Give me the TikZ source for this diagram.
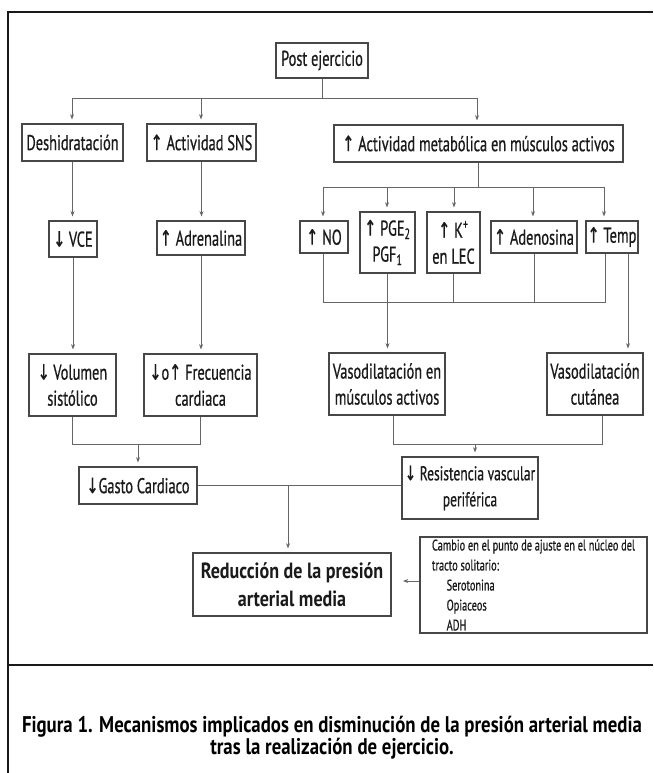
\documentclass[tikz,border=0pt]{standalone}
\usepackage{fontspec}
\usepackage{graphicx}
\usetikzlibrary{arrows.meta,calc}
\setmainfont[FakeStretch=0.675,FakeBold=0.6]{PT Sans}
\newfontfamily\arrfont[FakeStretch=0.675,FakeBold=0.6]{DejaVu Sans}
\newfontfamily\redfont[FakeStretch=0.82]{PT Sans}
\newfontfamily\capfont[FakeStretch=0.83]{PT Sans}
\newcommand\ua{{\arrfont ↑}}
\newcommand\da{{\arrfont ↓}}
\definecolor{txt}{HTML}{1A1A1A}
\begin{document}
\begin{tikzpicture}[x=0.75pt,y=-0.75pt,
  bx/.style={draw=black!72, line width=0.8pt, fill=white, inner sep=0pt, align=center,
    font=\fontsize{16}{19.5}\selectfont, text=txt},
  sz/.style 2 args={minimum width=#1*0.75pt, minimum height=#2*0.75pt},
  ln/.style={draw=black!60, line width=0.6pt},
  ar/.style={ln, -{Stealth[length=4pt,width=3pt]}, shorten >=3pt},
  frame/.style={draw=black!90, line width=1.6pt}]
\useasboundingbox (0,0) rectangle (653,773);
% frame
\draw[frame] (8,773) -- (8,12) -- (653,12);
\draw[frame] (8,665) -- (653,665);
% nodes
\node[bx, sz={92}{35}] (post) at (322,60.5) {Post ejercicio};
\node[bx, sz={101}{37}] (desh) at (72.5,142.5) {Deshidratación};
\node[bx, sz={109}{37}] (sns) at (201.5,142.5) {\ua\ Actividad SNS};
\node[bx, sz={289}{37}] (metab) at (478.5,143.5) {\ua\ Actividad metabólica en músculos activos};
\node[bx, sz={48}{36}] (vce) at (73,239) {\da\,VCE};
\node[bx, sz={88}{34}] (adren) at (201,238) {\ua\ Adrenalina};
\node[bx, sz={48}{32}] (no) at (324,237) {\ua\ NO};
\node[bx, sz={55}{61}] (pge) at (387.5,242.5) {\ua\ PGE\textsubscript{2}\\PGF\textsubscript{1}};
\node[bx, sz={53}{61}] (k) at (453.5,242.5) {\ua\ K\textsuperscript{+}\\en LEC};
\node[bx, sz={86}{32}] (aden) at (534,237) {\ua\ Adenosina};
\node[bx, sz={52}{32}] (temp) at (612,237) {\ua\ Temp};
\node[bx, sz={87}{62}] (vol) at (72.5,385) {\da\,Volumen\\sistólico};
\node[bx, sz={113}{62}] (frec) at (200.5,385) {\da o\ua\ Frecuencia\\cardiaca};
\node[bx, sz={116}{62}] (vmus) at (387,384) {Vasodilatación en\\músculos activos};
\node[bx, sz={96}{62}] (vcut) at (595,384) {Vasodilatación\\cutánea};
\node[bx, sz={118}{37}] (gasto) at (138,485.5) {\da Gasto Cardiaco};
\node[bx, sz={136}{62}, font=\fontsize{15}{19.5}\selectfont] (resist) at (470,488) {\da\ Resistencia vascular\\periférica};
\node[bx, sz={198}{63}, font=\redfont\bfseries\fontsize{16.5}{21}\selectfont] (reduc) at (292,584.5) {Reducción de la presión\\arterial media};
\node[bx, sz={227}{96}, align=left, font=\fontsize{11.5}{15}\selectfont] (cambio) at (533.5,585)
  {Cambio en el punto de ajuste en el núcleo del\\tracto solitario:\\\hspace*{11pt}Serotonina\\\hspace*{11pt}Opiaceos\\\hspace*{11pt}ADH};
\node[font=\capfont\bfseries\fontsize{17}{16.5}\selectfont, text=black, align=center] (cap) at (332,738)
  {Figura 1. Mecanismos implicados en disminución de la presión arterial media\\tras la realización de ejercicio.};
% bus 1
\coordinate (b1) at (322,98);
\coordinate (b1L) at (72,98);
\coordinate (b1M) at (201,98);
\coordinate (b1R) at (477,98);
\draw[ln] (post.south) -- (b1);
\draw[ln] (b1L) -- (b1R);
\draw[ar] (b1L) -- (b1L |- desh.north);
\draw[ar] (b1M) -- (b1M |- sns.north);
\draw[ar] (b1R) -- (b1R |- metab.north);
% left chains
\draw[ar] (desh.south) -- (desh.south |- vce.north);
\draw[ar] (sns.south) -- (sns.south |- adren.north);
\draw[ar] (vce.south) -- (vce.south |- vol.north);
\draw[ar] (adren.south) -- (adren.south |- frec.north);
% bus 2
\coordinate (b2L) at (323,187);
\coordinate (b2a) at (387,187);
\coordinate (b2b) at (454,187);
\coordinate (b2c) at (533,187);
\coordinate (b2R) at (604,187);
\draw[ln] (metab.south) -- (metab.south |- b2L);
\draw[ln] (b2L) -- (b2R);
\draw[ar] (b2L) -- (b2L |- no.north);
\draw[ar] (b2a) -- (b2a |- pge.north);
\draw[ar] (b2b) -- (b2b |- k.north);
\draw[ar] (b2c) -- (b2c |- aden.north);
\draw[ar] (b2R) -- (b2R |- temp.north);
% bus 3
\coordinate (c2L) at (323,302);
\coordinate (c2R) at (605,302);
\draw[ln] (c2L |- no.south) -- (c2L) -- (c2R) -- (c2R |- temp.south);
\draw[ln] (k.south) -- (k.south |- c2L);
\draw[ln] (aden.south) -- (aden.south |- c2L);
\draw[ar] (pge.south) -- (pge.south |- vmus.north);
\draw[ar] ([xshift=12pt]temp.south) coordinate (t2) -- (t2 |- vcut.north);
% to gasto
\coordinate (d1M) at (138,444);
\draw[ln] (vol.south) -- (vol.south |- d1M) -- (frec.south |- d1M) -- (frec.south);
\draw[ar] (d1M) -- (d1M |- gasto.north);
% to resist
\coordinate (e1L) at (393,444);
\coordinate (e1R) at (602,444);
\coordinate (e1M) at (475,444);
\draw[ln] (e1L |- vmus.south) -- (e1L) -- (e1R) -- (e1R |- vcut.south);
\draw[ar] (e1M) -- (e1M |- resist.north);
% gasto - resist
\draw[ln] (gasto.east) -- (gasto.east -| resist.west);
\coordinate (f1) at (288,485.5);
\draw[ar] (f1) -- (f1 |- reduc.north);
% cambio -> reduc
\coordinate (g1) at (403,581);
\draw[ln, -{Stealth[length=4pt,width=3pt]}] (cambio.west |- g1) -- (g1);
\end{tikzpicture}
\end{document}
